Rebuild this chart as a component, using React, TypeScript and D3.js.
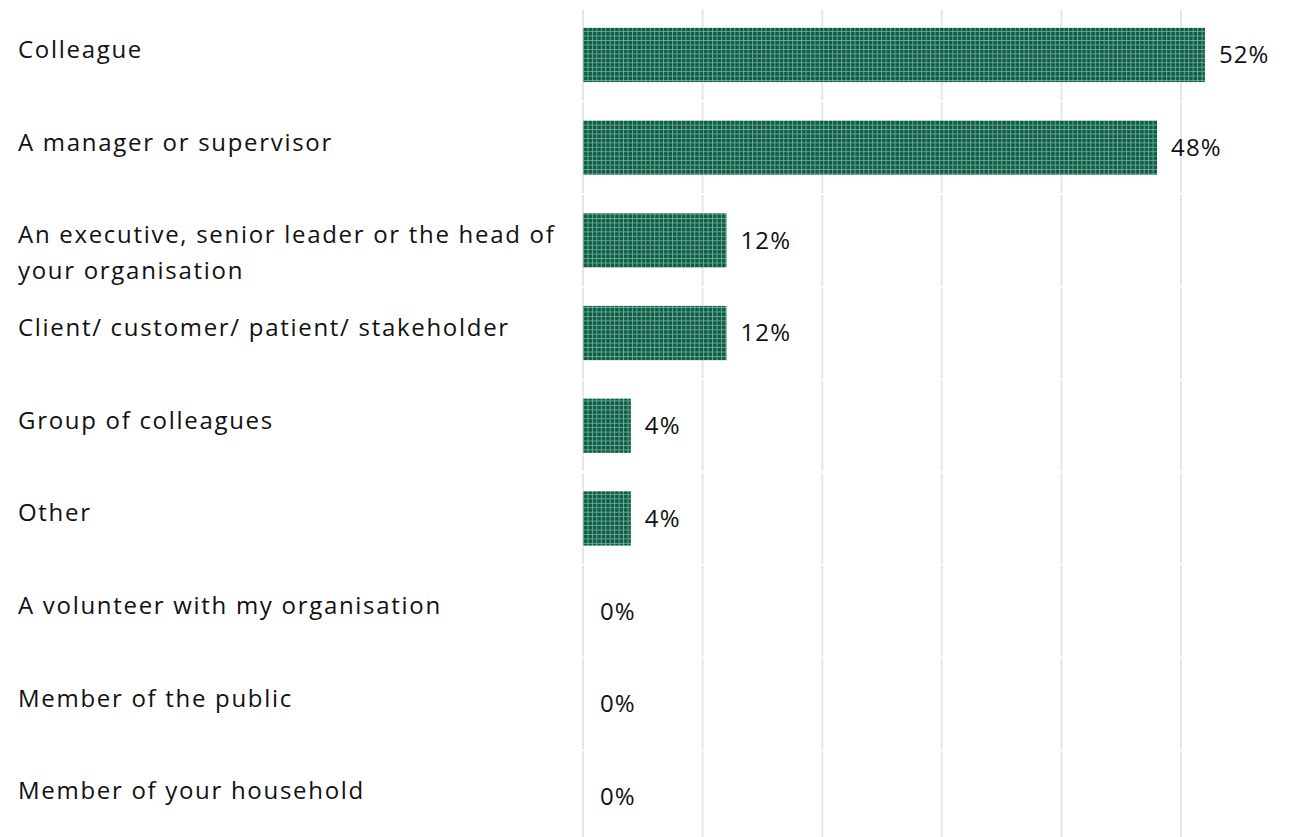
import * as d3 from "d3";

const categories = [
  ["Colleague"],
  ["A manager or supervisor"],
  ["An executive, senior leader or the head of", "your organisation"],
  ["Client/ customer/ patient/ stakeholder"],
  ["Group of colleagues"],
  ["Other"],
  ["A volunteer with my organisation"],
  ["Member of the public"],
  ["Member of your household"],
];
const values = [52, 48, 12, 12, 4, 4, 0, 0, 0];
const gridTicks = [0, 10, 20, 30, 40, 50, 60];

const WIDTH = 1289;
const HEIGHT = 837;
const FONT = "'Open Sans', 'Noto Sans', sans-serif";
const CELL = 4.45;

export default function App() {
  const x = d3.scaleLinear().domain([0, 60]).range([583, 1300.6]);
  const y = d3
    .scaleBand<number>()
    .domain(d3.range(categories.length))
    .range([8.6, 8.6 + 92.7 * categories.length])
    .paddingInner(0.415)
    .paddingOuter(0.2075);
  const step = y.step();

  return (
    <svg
      width={WIDTH}
      height={HEIGHT}
      style={{ position: "absolute", left: 0, top: 0, background: "#fff" }}
    >
      <defs>
        <pattern id="grid" patternUnits="userSpaceOnUse" width={CELL} height={CELL} x={583} y={0}>
          <rect width={CELL} height={CELL} fill="#0a5e45" />
          <path
            d={`M0,0.5H${CELL}M0.5,0V${CELL}`}
            stroke="#9cc4b6"
            strokeWidth={1}
            strokeOpacity={0.7}
          />
        </pattern>
      </defs>

      {/* gridlines, broken per row */}
      {categories.map((_, i) => {
        const top = (y(i) ?? 0) - (step - y.bandwidth()) / 2;
        return gridTicks.map((t) => (
          <line
            key={`g${i}-${t}`}
            x1={x(t)}
            x2={x(t)}
            y1={top + 1}
            y2={top + step - 1}
            stroke="#e6e6e6"
            strokeWidth={2}
          />
        ));
      })}

      {values.map((v, i) => {
        const by = y(i) ?? 0;
        return (
          <g key={i}>
            {v > 0 && (
              <rect
                x={x(0)}
                y={by}
                width={x(v) - x(0)}
                height={y.bandwidth()}
                fill="url(#grid)"
              />
            )}
            <text
              x={x(v) + (v > 0 ? 14 : 17)}
              y={by + y.bandwidth() / 2}
              dy="0.35em"
              fontFamily={FONT}
              fontSize={24}
              letterSpacing={1.1}
              fill="#111"
            >
              {v}%
            </text>
            <text
              x={18}
              y={by + 30}
              fontFamily={FONT}
              fontSize={24}
              letterSpacing={1.7}
              fill="#111"
            >
              {categories[i].map((line, j) => (
                <tspan key={j} x={18} dy={j === 0 ? 0 : 36}>
                  {line}
                </tspan>
              ))}
            </text>
          </g>
        );
      })}
    </svg>
  );
}
